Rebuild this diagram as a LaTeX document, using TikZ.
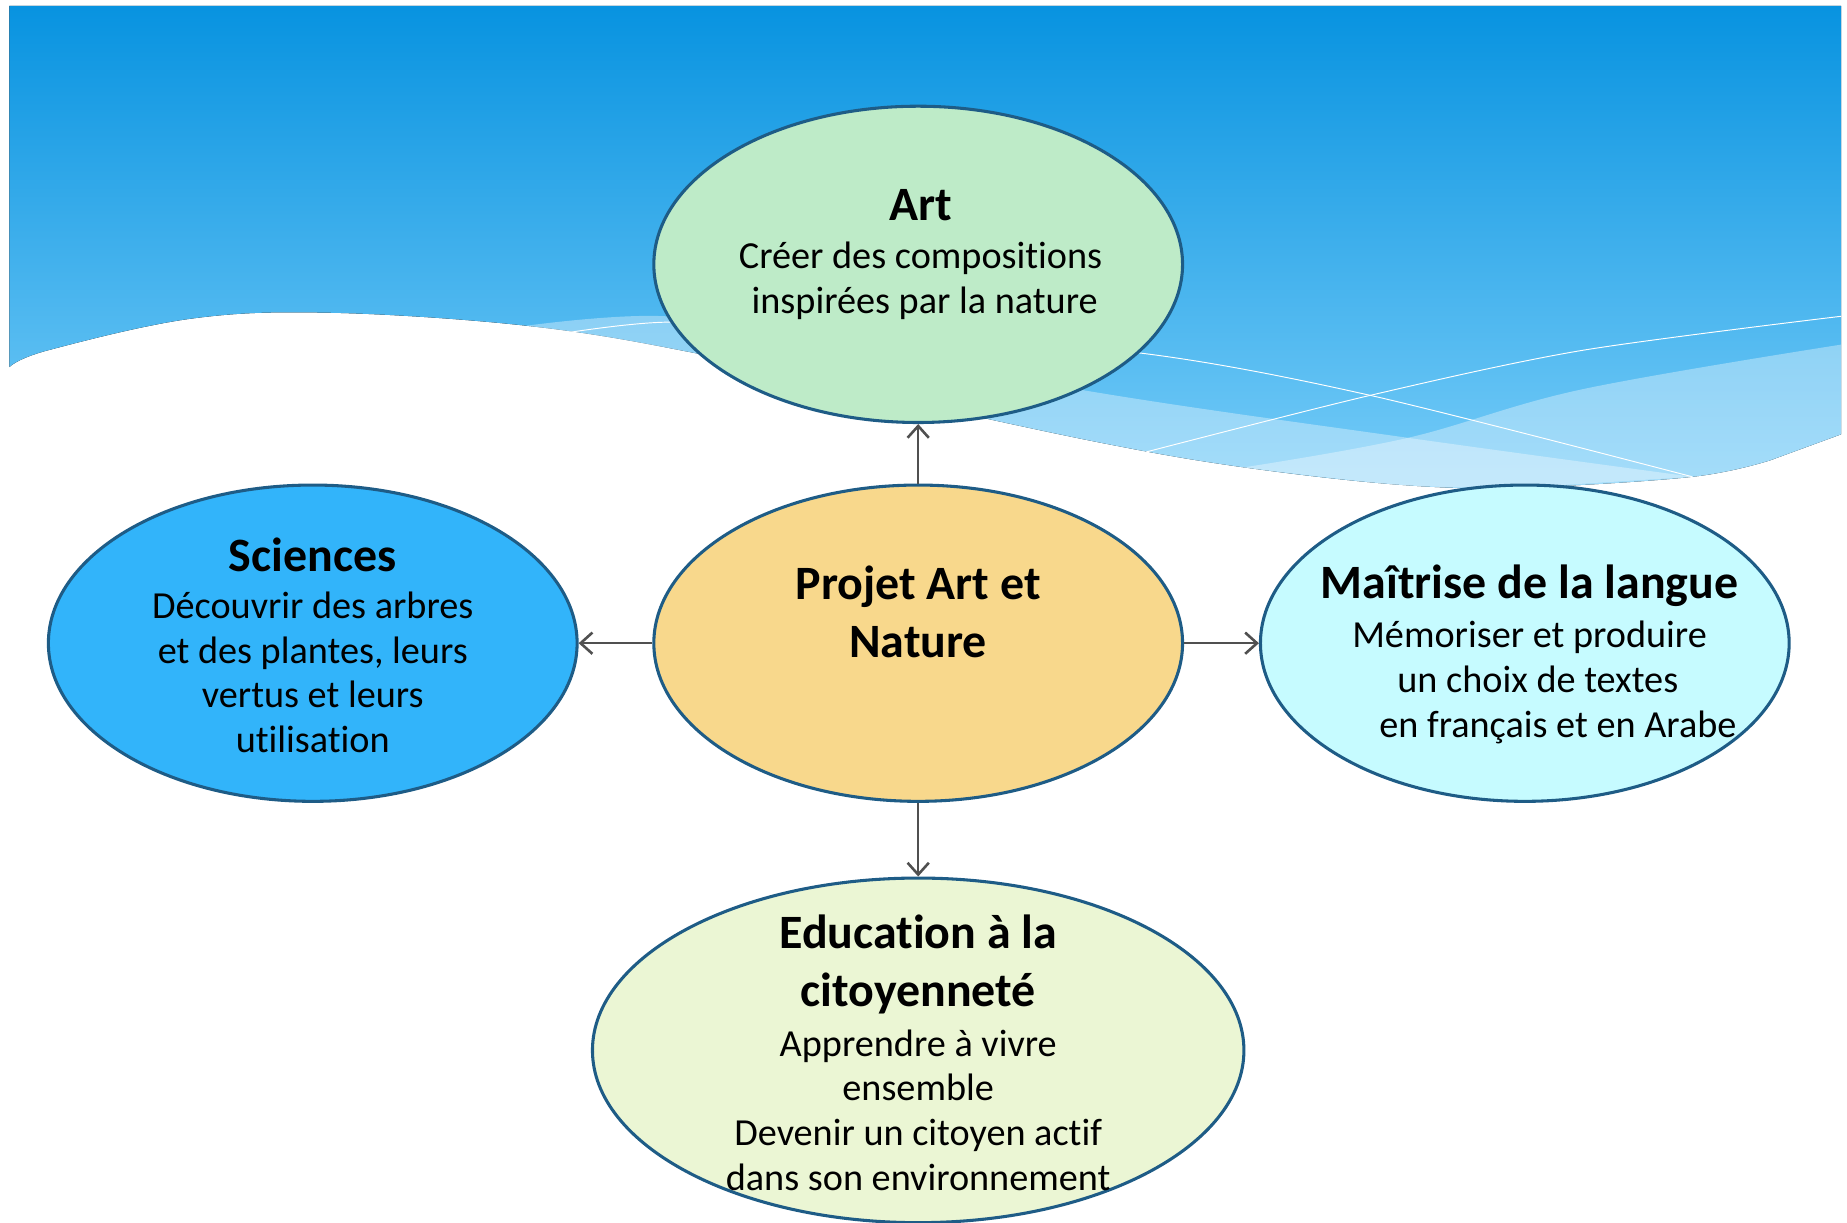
\documentclass[tikz,border=0pt]{standalone}
\usepackage{fontspec}
\setmainfont{Carlito}[Ligatures=NoCommon]
\usetikzlibrary{shapes.geometric,arrows.meta,positioning}
\definecolor{bannertop}{RGB}{8,147,224}
\definecolor{bannerbot}{RGB}{118,204,248}
\definecolor{rim}{RGB}{30,92,134}
\definecolor{artfill}{RGB}{190,235,200}
\definecolor{hubfill}{RGB}{248,216,140}
\definecolor{scifill}{RGB}{50,180,250}
\definecolor{langfill}{RGB}{198,251,255}
\definecolor{civfill}{RGB}{235,246,212}
\definecolor{linkgray}{RGB}{80,80,80}
\tikzset{bubble/.style={ellipse, draw=rim, line width=1.3pt, inner sep=0pt,
         minimum width=224pt, minimum height=134pt},
         head/.style={font=\fontsize{20.3}{24.5}\selectfont\bfseries, align=center,
         inner sep=0pt, anchor=north},
         body/.style={font=\fontsize{16.2}{19}\selectfont, align=center,
         inner sep=0pt, anchor=north},
         link/.style={draw=linkgray, line width=1.1pt,
         -{Straight Barb[length=5pt,width=9pt]}}}

\begin{document}
\begin{tikzpicture}[x=0.5pt,y=-0.5pt]
  \useasboundingbox (0,0) rectangle (1565,1036);
  % banner
  \fill[top color=bannertop, bottom color=bannerbot] (8,5) -- (1560,5) -- (1560,368)
    -- plot[smooth, tension=0.6] coordinates {(1500,390) (1434,404) (1291,413) (1189,411)
       (1054,396) (932,375) (760,338) (588,299) (446,276) (280,265) (162,270) (40,297) (8,311)}
    -- cycle;
  \fill[white, opacity=0.35] plot[smooth, tension=0.6] coordinates {(446,276) (564,268)
       (700,290) (932,333) (1193,371) (1434,404)}
    -- plot[smooth, tension=0.6] coordinates {(1291,413) (1189,411) (1054,396) (932,375)
       (760,338) (588,299) (446,276)} -- cycle;
  \fill[white, opacity=0.35] plot[smooth, tension=0.6] coordinates {(1054,396) (1193,371)
       (1340,330) (1560,292)} -- (1560,368)
    -- plot[smooth, tension=0.6] coordinates {(1500,390) (1434,404) (1291,413) (1189,411)
       (1054,396)} -- cycle;
  \draw[white, line width=0.4pt] plot[smooth] coordinates {(480,282) (564,273) (700,278)
       (965,299) (1161,335) (1434,404)};
  \draw[white, line width=0.4pt] plot[smooth] coordinates {(971,383) (1161,335) (1340,297)
       (1560,268)};

  % bubbles
  \node[bubble, fill=artfill] (art) at (778,224) {};
  \node[bubble, fill=hubfill] (hub) at (778,545) {};
  \node[bubble, fill=scifill] (sci) at (265,545) {};
  \node[bubble, fill=langfill] (lang) at (1292,545) {};
  \node[bubble, fill=civfill, minimum width=276pt, minimum height=146pt] (civ) at (778,890) {};
  \foreach \t in {art,sci,lang,civ}
    \draw[link] (hub) -- (\t);

  % texts
  \node[head] (art-head) at (780,160) {Art};
  \node[body] (art-body) at (780,205) {Créer des compositions\\\hspace*{3.5pt}inspirées par la nature};
  \node[head] (hub-head) at (778,479) {Projet Art et\\Nature};
  \node[head] (sci-head) at (265,455) {Sciences};
  \node[body] (sci-body) at (265,501) {Découvrir des arbres\\et des plantes, leurs\\vertus et leurs\\utilisation};
  \node[head] (lang-head) at (1296,478) {Maîtrise de la langue};
  \node[body] (lang-body) at (1296,526) {Mémoriser et produire\\\hspace*{7pt}un choix de textes\\\hspace*{24pt}en français et en Arabe};
  \node[head] (civ-head) at (778,775) {Education à la\\citoyenneté};
  \node[body] (civ-body) at (778,872) {Apprendre à vivre\\ensemble\\Devenir un citoyen actif\\dans son environnement};
\end{tikzpicture}
\end{document}
